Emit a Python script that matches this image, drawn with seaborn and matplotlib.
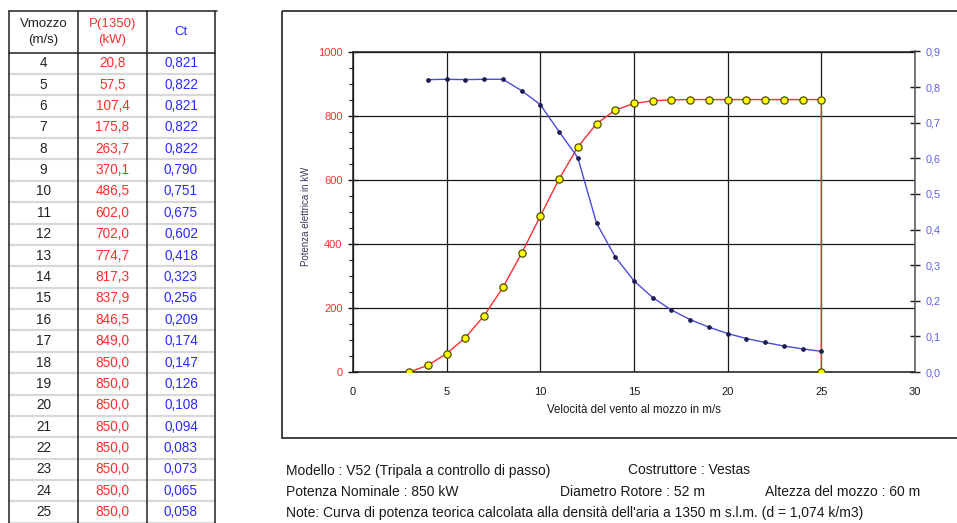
import matplotlib
matplotlib.use("Agg")
import matplotlib.pyplot as plt
import seaborn as sns
import pandas as pd
from matplotlib.patches import Rectangle
from matplotlib.ticker import MultipleLocator, FuncFormatter

# Wind turbine V52 power curve at 1350 m a.s.l.
vmozzo = [4, 5, 6, 7, 8, 9, 10, 11, 12, 13, 14, 15, 16, 17, 18, 19, 20, 21, 22, 23, 24, 25]
potenza_kw = [20.8, 57.5, 107.4, 175.8, 263.7, 370.1, 486.5, 602.0, 702.0, 774.7, 817.3,
              837.9, 846.5, 849.0, 850.0, 850.0, 850.0, 850.0, 850.0, 850.0, 850.0, 850.0]
ct = [0.821, 0.822, 0.821, 0.822, 0.822, 0.790, 0.751, 0.675, 0.602, 0.418, 0.323,
      0.256, 0.209, 0.174, 0.147, 0.126, 0.108, 0.094, 0.083, 0.073, 0.065, 0.058]
cut_in_speed = 3
cut_out_speed = 25

x_ticks = [0, 5, 10, 15, 20, 25, 30]
p_ticks = [0, 200, 400, 600, 800, 1000]
ct_ticks = [0.0, 0.1, 0.2, 0.3, 0.4, 0.5, 0.6, 0.7, 0.8, 0.9]

header_v = "Vmozzo\n(m/s)"
header_p = "P(1350)\n(kW)"
header_ct = "Ct"

info_lines = [
    ("Modello : V52 (Tripala a controllo di passo)", "Costruttore : Vestas", None),
    ("Potenza Nominale : 850 kW", "Diametro Rotore : 52 m", "Altezza del mozzo : 60 m"),
    ("Note: Curva di potenza teorica calcolata alla densità dell'aria a 1350 m s.l.m. (d = 1,074 k/m3)", None, None),
]

RED = "#ff2e2e"
BLUE = "#2b2bff"
CT_LINE = "#4b4bd6"
CT_LABEL = "#6060ee"

sns.set_style("white")
plt.rcParams["font.family"] = ["Liberation Sans", "DejaVu Sans"]

fig = plt.figure(figsize=(9.57, 5.23), dpi=100)

# Pixel-based canvas for table, frame and notes
canvas = fig.add_axes([0, 0, 1, 1])
canvas.set_xlim(0, 957)
canvas.set_ylim(523, 0)
canvas.axis("off")


def comma(v, fmt):
    return format(v, fmt).replace(".", ",")


# ---- table ----
col_edges = [9, 78, 147, 215]
top, head_bottom, row_h = 10.7, 52.5, 21.38
n_rows = len(vmozzo)
bottom = head_bottom + n_rows * row_h
for i in range(n_rows):
    y = head_bottom + (i + 1) * row_h
    canvas.plot([col_edges[0], col_edges[-1]], [y, y], color="#d8d8d8", lw=1.6, zorder=1)
canvas.plot([col_edges[0], col_edges[-1] + 2], [top, top], color="#222222", lw=1.1, zorder=2)
canvas.plot([col_edges[0], col_edges[-1]], [head_bottom, head_bottom], color="#222222", lw=1.1, zorder=2)
for xe in col_edges:
    canvas.plot([xe, xe], [top, bottom], color="#222222", lw=1.1, zorder=2)

centers = [(col_edges[i] + col_edges[i + 1]) / 2 for i in range(3)]
hy = (top + head_bottom) / 2
canvas.text(centers[0], hy, header_v, ha="center", va="center", fontsize=9.5,
            color="#222222", linespacing=1.45)
canvas.text(centers[1], hy, header_p, ha="center", va="center", fontsize=9.5,
            color=RED, linespacing=1.45)
canvas.text(centers[2], hy, header_ct, ha="center", va="center", fontsize=9.5, color=BLUE)

for i, (v, p, c) in enumerate(zip(vmozzo, potenza_kw, ct)):
    y = head_bottom + (i + 0.5) * row_h
    canvas.text(centers[0], y, str(v), ha="center", va="center", fontsize=9.8, color="#222222")
    canvas.text(centers[1], y, comma(p, ".1f"), ha="center", va="center", fontsize=9.8, color=RED)
    canvas.text(centers[2], y, comma(c, ".3f"), ha="center", va="center", fontsize=9.8, color=BLUE)

# ---- chart frame ----
canvas.add_patch(Rectangle((282, 11), 700, 427, fill=False, edgecolor="#222222", lw=1.2, zorder=1))

# ---- notes under the chart ----
for j, (a, b, c) in enumerate(info_lines):
    y = 470.5 + j * 21
    canvas.text(286, y, a, ha="left", va="center", fontsize=10, color="#1a1a1a")
    if b:
        canvas.text(628 if j == 0 else 560, y, b, ha="left", va="center", fontsize=10, color="#1a1a1a")
    if c:
        canvas.text(765, y, c, ha="left", va="center", fontsize=10, color="#1a1a1a")

# ---- power / thrust chart ----
ax = fig.add_axes([353 / 957, 151 / 523, 562 / 957, 320.5 / 523])
ax.set_facecolor("none")

curve = pd.DataFrame({
    "v": [cut_in_speed] + vmozzo + [cut_out_speed],
    "p": [0.0] + potenza_kw + [0.0],
})
sns.lineplot(data=curve, x="v", y="p", ax=ax, estimator=None, sort=False,
             color=RED, lw=1.0, marker="o", markersize=5.2,
             markerfacecolor="#ffff00", markeredgecolor="#4d4d00",
             markeredgewidth=0.9, zorder=5)

ax2 = ax.twinx()
sns.lineplot(x=vmozzo, y=ct, ax=ax2, estimator=None, sort=False,
             color=CT_LINE, lw=1.0, marker="o", markersize=2.6,
             markerfacecolor="#1c1c50", markeredgecolor="#1c1c50", zorder=4)

ax.set_xlim(0, 30)
ax.set_ylim(0, 1000)
ax2.set_ylim(0, 0.9)
ax.set_xlabel("")
ax.set_ylabel("")
ax2.set_ylabel("")

ax.set_xticks(x_ticks)
ax.set_xticklabels([str(t) for t in x_ticks])
ax.xaxis.set_minor_locator(MultipleLocator(1))
ax.set_yticks(p_ticks)
ax.set_yticklabels([str(t) for t in p_ticks])
ax.yaxis.set_minor_locator(MultipleLocator(50))
ax2.set_yticks(ct_ticks)
ax2.yaxis.set_major_formatter(FuncFormatter(lambda v, _: comma(v, ".1f")))

ax.grid(True, which="major", color="#1a1a1a", lw=0.9)
ax.set_axisbelow(True)

for side in ["left", "bottom", "top"]:
    ax.spines[side].set_visible(True)
    ax.spines[side].set_color("#1a1a1a")
    ax.spines[side].set_linewidth(1.1)
ax.spines["right"].set_visible(False)
for side in ["left", "bottom", "top"]:
    ax2.spines[side].set_visible(False)
ax2.spines["right"].set_visible(True)
ax2.spines["right"].set_color("#555555")
ax2.spines["right"].set_linewidth(1.1)

ax.tick_params(axis="x", which="major", direction="out", length=4, width=1.0,
               pad=7, labelsize=8, labelcolor="#1a1a1a", color="#1a1a1a")
ax.tick_params(axis="x", which="minor", direction="inout", length=4, width=0.8, color="#1a1a1a")
ax.tick_params(axis="y", which="major", direction="inout", length=7, width=1.0,
               pad=4, labelsize=8, labelcolor=RED, color="#1a1a1a")
ax.tick_params(axis="y", which="minor", direction="out", length=3, width=0.8, color="#1a1a1a")
ax2.tick_params(axis="y", which="major", direction="inout", length=7, width=1.0,
                pad=4, labelsize=7.8, labelcolor=CT_LABEL, color="#1a1a1a")

canvas.text(634, 410, "Velocità del vento al mozzo in m/s", ha="center", va="center",
            fontsize=8.3, color="#1a1a1a")
canvas.text(306, 216, "Potenza elettrica in kW", ha="center", va="center", rotation=90,
            fontsize=7, color="#38385a")

fig.savefig("out.png", dpi=100)
